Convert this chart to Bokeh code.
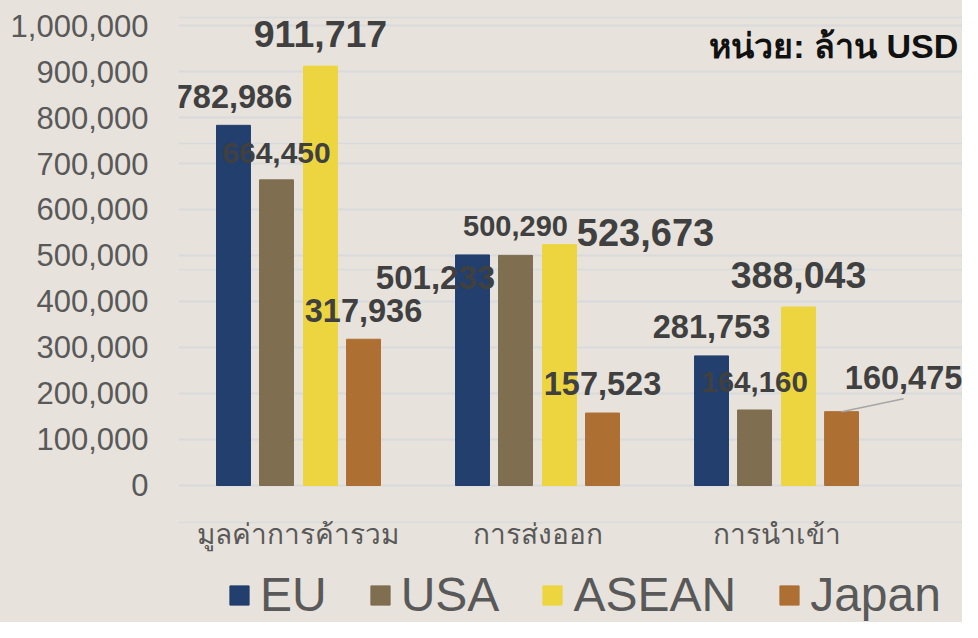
from bokeh.plotting import figure
from bokeh.layouts import column
from bokeh.models import (ColumnDataSource, FixedTicker, NumeralTickFormatter, Span,
                          Label, Legend, LegendItem)
from bokeh.core.properties import value, field
from bokeh.embed import file_html
from bokeh.resources import INLINE

# ---------------- data ----------------
categories = ["มูลค่าการค้ารวม", "การส่งออก", "การนำเข้า"]
series = ["EU", "USA", "ASEAN", "Japan"]
eu = [782986, 501233, 281753]
usa = [664450, 500290, 164160]
asean = [911717, 523673, 388043]
japan = [317936, 157523, 160475]
y_ticks = [0, 100000, 200000, 300000, 400000, 500000, 600000, 700000, 800000, 900000, 1000000]
unit_text = "หน่วย:  ล้าน USD"

# ---------------- style ----------------
BG = "#E7E3DC"
GRID = "#D8DADC"
colors = ["#223F6D", "#7F6E50", "#EDD540", "#AE6F33"]
offsets = [-0.272, -0.092, 0.092, 0.272]
bar_w = 0.142
PX_X = 239.0          # px per category unit
PX_Y = 460.0 / 1e6    # px per value unit
ZERO_PX = 485         # pixel row of the zero line
# label placement (pixel offsets: dx right, dy up) and font sizes per series
label_dx = [[0, -37, 0], [0, 0, 0], [0, 86, 0], [0, 0, 62]]
label_dy = [[29, -23, 29], [27, 29, 27.5], [32.6, 12, 32], [29, 29.5, 33.7]]
label_size = [[32.5, 33, 32.5], [30, 29, 29.5], [37.5, 38, 37.5], [32.5, 32.5, 32.5]]
stripe_px = [17, 143, 269, 522]   # faint background lines (px from top)

p = figure(width=962, height=556, x_range=(-0.502, 2.778), y_range=(-84783, 1054348),
           output_backend="svg", toolbar_location=None,
           min_border_left=178, min_border_right=0, min_border_top=0, min_border_bottom=32,
           background_fill_color=BG, border_fill_color=BG, outline_line_color=None)
p.styles = {"background-color": BG}

for px in stripe_px:
    p.add_layout(Span(location=(ZERO_PX - px) / PX_Y, dimension="width", line_color=GRID,
                      line_width=1.5, level="underlay"))

all_vals = [eu, usa, asean, japan]
lx, ly, lt, ldx, ldy, lsz = [], [], [], [], [], []
for i, (name, vals) in enumerate(zip(series, all_vals)):
    xs = [g + offsets[i] for g in range(len(categories))]
    src = ColumnDataSource(dict(x=xs, top=vals))
    p.vbar(x="x", top="top", width=bar_w, source=src, fill_color=colors[i],
           line_color=colors[i], line_width=1)
    for g in range(len(categories)):
        lx.append(xs[g]); ly.append(vals[g]); lt.append(f"{vals[g]:,}")
        ldx.append(label_dx[i][g]); ldy.append(-label_dy[i][g]); lsz.append(f"{label_size[i][g]}px")

# leader line for the Japan import label
x0 = 2 + offsets[3]
p.segment(x0=[x0], y0=[japan[2]], x1=[x0 + label_dx[3][2] / PX_X], y1=[japan[2] + 13 / PX_Y],
          line_color="#A6A6A6", line_width=1.5)

lsrc = ColumnDataSource(dict(x=lx, y=ly, t=lt, dx=ldx, dy=ldy, sz=lsz))
p.text(x="x", y="y", text="t", x_offset="dx", y_offset="dy", source=lsrc,
       text_font_size=field("sz"), text_font=value("Liberation Sans"),
       text_font_style="bold", text_color="#404040", text_align="center",
       text_baseline="middle")

p.add_layout(Label(x=2.80, y=(ZERO_PX - 45) / PX_Y, text=unit_text, text_align="right",
                   text_baseline="middle", text_font_size="34px", text_font_style="bold",
                   text_font="Liberation Sans, sans-serif", text_color="#111111"))

p.xgrid.visible = False
p.ygrid.grid_line_color = GRID
p.ygrid.grid_line_width = 2
p.ygrid.ticker = FixedTicker(ticks=y_ticks)

p.yaxis.ticker = FixedTicker(ticks=y_ticks)
p.yaxis.formatter = NumeralTickFormatter(format="0,0")
p.yaxis.axis_line_color = None
p.yaxis.major_tick_line_color = None
p.yaxis.minor_tick_line_color = None
p.yaxis.major_tick_out = 0
p.yaxis.major_label_standoff = 30
p.yaxis.major_label_text_font = "Liberation Sans"
p.yaxis.major_label_text_font_size = "31px"
p.yaxis.major_label_text_color = "#595959"

p.xaxis.ticker = FixedTicker(ticks=[0, 1, 2])
p.xaxis.major_label_overrides = {i: c for i, c in enumerate(categories)}
p.xaxis.axis_line_color = None
p.xaxis.major_tick_line_color = None
p.xaxis.minor_tick_line_color = None
p.xaxis.major_tick_out = 0
p.xaxis.major_label_standoff = -6
p.xaxis.major_label_text_font = "Liberation Sans, sans-serif"
p.xaxis.major_label_text_font_size = "28px"
p.xaxis.major_label_text_color = "#595959"

# ---------------- legend strip ----------------
# (its frame is aligned with the chart frame, which starts 178 px from the left)
lg = figure(width=962, height=66, x_range=(0, 1), y_range=(0, 1),
            output_backend="svg", toolbar_location=None,
            min_border_left=0, min_border_right=0, min_border_top=0, min_border_bottom=0,
            background_fill_color=BG, border_fill_color=BG, outline_line_color=None)
lg.styles = {"background-color": BG}
lg.axis.visible = False
lg.grid.visible = False
# swatch renderers parked outside the visible range: only their legend glyphs show
swatches = [lg.vbar(x=[-5], top=[-5], width=0.1, fill_color=c, line_color=c) for c in colors]
legend = Legend(items=[LegendItem(label=s, renderers=[r]) for s, r in zip(series, swatches)],
                orientation="horizontal", location=(49, 0),
                label_text_font_size="48px", label_text_color="#595959",
                label_text_font="Liberation Sans",
                glyph_width=24, glyph_height=24, spacing=41, label_standoff=9,
                border_line_alpha=0, background_fill_alpha=0, padding=0, margin=0)
lg.add_layout(legend, "center")

layout = column(p, lg, spacing=0)
layout.styles = {"background-color": BG}
open("out.html", "w").write(file_html(layout, INLINE))
